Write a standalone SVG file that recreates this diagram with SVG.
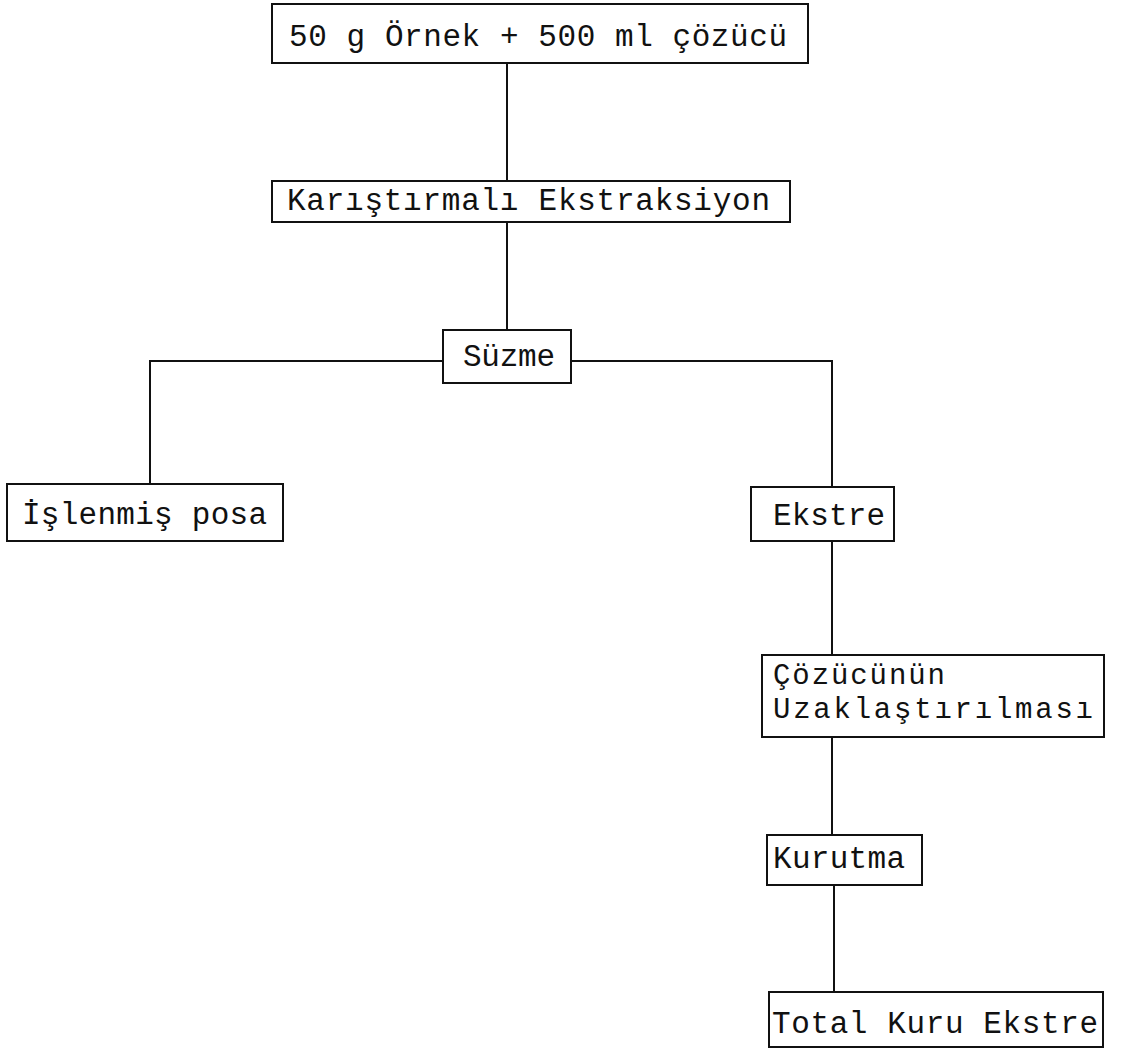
<svg xmlns="http://www.w3.org/2000/svg" width="1125" height="1056" viewBox="0 0 1125 1056">
<style>
.box{fill:#fff;stroke:#111;stroke-width:2}
.lbl{font-family:"Liberation Mono","DejaVu Sans Mono",monospace;font-size:31px;fill:#111}
.sm{font-size:29px}
.con{stroke:#111;stroke-width:2;fill:none}
</style>
<rect width="1125" height="1056" fill="#fff"/>
<g id="connectors">
<path class="con" d="M507 63V181"/>
<path class="con" d="M507 222V330"/>
<path class="con" d="M443 361H150V484"/>
<path class="con" d="M571 361H832V487"/>
<path class="con" d="M832 541V655"/>
<path class="con" d="M832 737V835"/>
<path class="con" d="M834 885V992"/>
</g>
<g id="n1"><rect class="box" x="272" y="4" width="536" height="59"/><text class="lbl" x="289" y="46" textLength="498" lengthAdjust="spacing">50 g Örnek + 500 ml çözücü</text></g>
<g id="n2"><rect class="box" x="272" y="181" width="518" height="41"/><text class="lbl" x="287" y="210" textLength="483" lengthAdjust="spacing">Karıştırmalı Ekstraksiyon</text></g>
<g id="n3"><rect class="box" x="443" y="330" width="128" height="53"/><text class="lbl" x="463" y="366" textLength="92" lengthAdjust="spacing">Süzme</text></g>
<g id="n4"><rect class="box" x="7" y="484" width="276" height="57"/><text class="lbl" x="22" y="524" textLength="245" lengthAdjust="spacing">İşlenmiş posa</text></g>
<g id="n5"><rect class="box" x="751" y="487" width="143" height="54"/><text class="lbl" x="773" y="525" textLength="112" lengthAdjust="spacing">Ekstre</text></g>
<g id="n6"><rect class="box" x="762" y="655" width="342" height="82"/><text class="lbl sm" x="773" y="684" textLength="172" lengthAdjust="spacing">Çözücünün</text><text class="lbl sm" x="773" y="718" textLength="320" lengthAdjust="spacing">Uzaklaştırılması</text></g>
<g id="n7"><rect class="box" x="767" y="835" width="155" height="50"/><text class="lbl" x="773" y="868" textLength="132" lengthAdjust="spacing">Kurutma</text></g>
<g id="n8"><rect class="box" x="769" y="992" width="334" height="55"/><text class="lbl" x="772" y="1033" textLength="326" lengthAdjust="spacing">Total Kuru Ekstre</text></g>
</svg>
